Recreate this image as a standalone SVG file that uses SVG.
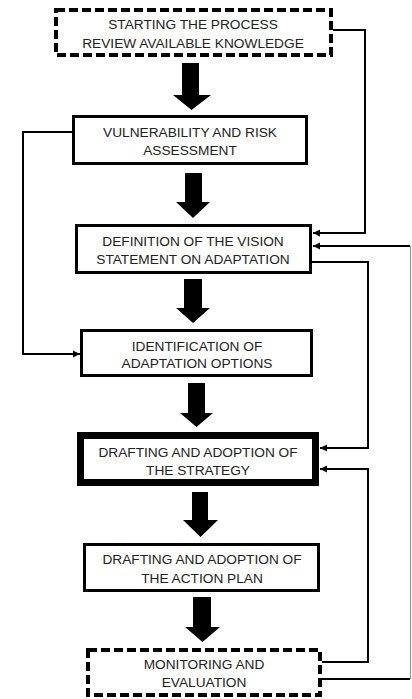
<svg xmlns="http://www.w3.org/2000/svg" width="412" height="699" viewBox="0 0 412 699">
<defs>
<style>
.box{fill:#fff;stroke:#000;stroke-width:3}
.dash{fill:#fff;stroke:#000;stroke-width:4;stroke-dasharray:9 4}
.thick{fill:#fff;stroke:#000;stroke-width:7}
.t{font-family:"Liberation Sans",Arial,sans-serif;font-size:13.7px;fill:#222;text-anchor:middle}
.ln{fill:none;stroke:#000;stroke-width:2}
.blk{fill:#000}
</style>
<marker id="ah" markerUnits="userSpaceOnUse" markerWidth="8" markerHeight="8" viewBox="0 0 8 8" refX="7" refY="4" orient="auto">
<path d="M0,0.5 L7,4 L0,7.5 z" fill="#000"/>
</marker>
</defs>
<g id="connectors">
<path class="ln" d="M333,30 H365 V233 H313" marker-end="url(#ah)"/>
<path class="ln" d="M410,246 H313" marker-end="url(#ah)"/>
<path d="M410.5,246 V679" stroke="#999" stroke-width="1.2" fill="none"/>
<path class="ln" d="M322,679 H410"/>
<path class="ln" d="M312,262 H368 V448 H320" marker-end="url(#ah)"/>
<path class="ln" d="M72,132 H23 V354 H80" marker-end="url(#ah)"/>
<path class="ln" d="M322,662 H368 V469 H320" marker-end="url(#ah)"/>
<path class="blk" d="M182,63 H199 V95 H211 L191.5,110 L173,95 H182 Z"/>
<path class="blk" d="M185,173 H202 V202 H210 L193,218 L176,202 H185 Z"/>
<path class="blk" d="M184,279 H202 V308 H210 L193,323 L176,308 H184 Z"/>
<path class="blk" d="M188,383 H205 V413 H213 L196.5,427 L180,413 H188 Z"/>
<path class="blk" d="M192,492 H208 V520 H218 L200.5,537 L183,520 H192 Z"/>
<path class="blk" d="M193,597 H211 V627 H220 L202.5,642 L185,627 H193 Z"/>
</g>
<g id="n1">
<rect class="dash" x="56" y="10" width="275" height="45"/>
<text class="t" x="193" y="29">STARTING THE PROCESS</text>
<text class="t" x="193" y="47.5">REVIEW AVAILABLE KNOWLEDGE</text>
</g>
<g id="n2">
<rect class="box" x="73.5" y="116.5" width="233" height="47"/>
<text class="t" x="190" y="136.5">VULNERABILITY AND RISK</text>
<text class="t" x="190" y="155">ASSESSMENT</text>
</g>
<g id="n3">
<rect class="box" x="76.5" y="225.5" width="234" height="47"/>
<text class="t" x="193" y="245.5">DEFINITION OF THE VISION</text>
<text class="t" x="193" y="264">STATEMENT ON ADAPTATION</text>
</g>
<g id="n4">
<rect class="box" x="81.5" y="330.5" width="230" height="45"/>
<text class="t" x="197" y="351">IDENTIFICATION OF</text>
<text class="t" x="197" y="368">ADAPTATION OPTIONS</text>
</g>
<g id="n5">
<rect class="thick" x="80.5" y="435.5" width="235" height="47"/>
<text class="t" x="198" y="456.5">DRAFTING AND ADOPTION OF</text>
<text class="t" x="198" y="475">THE STRATEGY</text>
</g>
<g id="n6">
<rect class="box" x="84.5" y="544.5" width="234" height="46"/>
<text class="t" x="202" y="564">DRAFTING AND ADOPTION OF</text>
<text class="t" x="202" y="582.5">THE ACTION PLAN</text>
</g>
<g id="n7">
<rect class="dash" x="88" y="650" width="232" height="45"/>
<text class="t" x="204" y="669">MONITORING AND</text>
<text class="t" x="204" y="687">EVALUATION</text>
</g>
</svg>
